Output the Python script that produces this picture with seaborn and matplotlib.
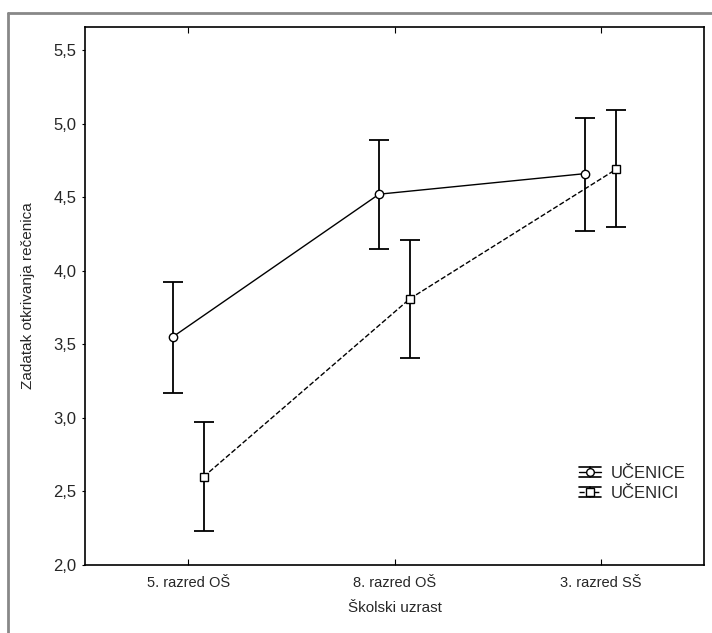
import numpy as np
import pandas as pd
import matplotlib
matplotlib.use("Agg")
import matplotlib.pyplot as plt
from matplotlib.ticker import FuncFormatter
from matplotlib.legend_handler import HandlerBase
from matplotlib.lines import Line2D
import seaborn as sns

# data
categories = ['5. razred OŠ', '8. razred OŠ', '3. razred SŠ']
groups = ['UČENICE', 'UČENICI']
mean_ucenice = [3.55, 4.52, 4.66]
lower_ucenice = [3.17, 4.15, 4.27]
upper_ucenice = [3.92, 4.89, 5.04]
mean_ucenici = [2.60, 3.81, 4.69]
lower_ucenici = [2.23, 3.41, 4.30]
upper_ucenici = [2.97, 4.21, 5.09]

df = pd.DataFrame({
    'uzrast': categories * 2,
    'spol': [groups[0]] * 3 + [groups[1]] * 3,
    'rezultat': mean_ucenice + mean_ucenici,
})


class ErrorbarKeyHandler(HandlerBase):
    # legend key: caps top and bottom, stem, line with marker in the middle
    def create_artists(self, legend, orig_handle, xdescent, ydescent,
                       width, height, fontsize, trans):
        x0 = -xdescent
        x1 = x0 + width
        xm = (x0 + x1) / 2
        ym = -ydescent + height / 2
        top = ym + height * 0.45
        bot = ym - height * 0.45
        arts = [
            Line2D([x0, x1], [top, top], color='black', lw=1.2),
            Line2D([x0, x1], [bot, bot], color='black', lw=1.2),
            Line2D([xm, xm], [bot, top], color='black', lw=1.2),
            Line2D([x0, x1], [ym, ym], color='black', lw=1.0,
                   linestyle=orig_handle.get_linestyle()),
            Line2D([xm], [ym], marker=orig_handle.get_marker(), markersize=5.5,
                   markerfacecolor='white', markeredgecolor='black',
                   linestyle='none'),
        ]
        for a in arts:
            a.set_transform(trans)
        return arts


sns.set_style('white')
plt.rcParams['font.family'] = ['Liberation Sans', 'DejaVu Sans']

fig = plt.figure(figsize=(7.12, 6.33), dpi=100)
ax = fig.add_axes([0.1194, 0.1074, 0.8694, 0.8499])

sns.pointplot(data=df, x='uzrast', y='rezultat', hue='spol', order=categories,
              hue_order=groups, dodge=0.15, errorbar=None,
              palette=['black', 'black'], markers=['o', 's'],
              linestyles=['-', '--'], ax=ax, legend=False,
              markersize=6, linewidth=1.0,
              markerfacecolor='white', markeredgecolor='black',
              markeredgewidth=1.0)

# error bars at the dodged positions seaborn used
handles = []
bounds = [(mean_ucenice, lower_ucenice, upper_ucenice),
          (mean_ucenici, lower_ucenici, upper_ucenici)]
styles = [('o', '-'), ('s', '--')]
for line, (m, lo, hi), (mk, ls) in zip(ax.lines[:2], bounds, styles):
    line.set_zorder(4)
    xs = line.get_xdata()
    m = np.array(m)
    yerr = [m - np.array(lo), np.array(hi) - m]
    ax.errorbar(xs, m, yerr=yerr, fmt='none', ecolor='black',
                elinewidth=1.3, capsize=7, capthick=1.3, zorder=2)
    handles.append(Line2D([], [], color='black', linestyle=ls, marker=mk))

ax.set_xlim(-0.5, 2.5)
ax.set_ylim(2.0, 5.656)
ax.set_yticks(np.arange(2.0, 5.51, 0.5))
ax.yaxis.set_major_formatter(FuncFormatter(lambda v, p: f'{v:.1f}'.replace('.', ',')))

ax.set_xlabel('Školski uzrast', fontsize=11, labelpad=8)
ax.set_ylabel('Zadatak otkrivanja rečenica', fontsize=11, labelpad=13)
ax.tick_params(axis='x', direction='in', length=4, top=True, bottom=True,
               labelsize=10.5, pad=8, color='black')
ax.tick_params(axis='y', direction='out', length=2, left=True,
               labelsize=12, pad=4, color='black')
for s in ax.spines.values():
    s.set_color('black')
    s.set_linewidth(1.2)

ax.legend(handles, groups, handler_map={Line2D: ErrorbarKeyHandler()},
          loc='upper left', bbox_to_anchor=(0.785, 0.2), frameon=False,
          fontsize=12, handlelength=1.3, handletextpad=0.6,
          labelspacing=0.3, borderpad=0)

# outer gray frame (left and top edges only are visible)
fig.add_artist(Line2D([8 / 712, 8 / 712], [0, 1 - 13 / 633],
                      transform=fig.transFigure, color='#888888', linewidth=2))
fig.add_artist(Line2D([8 / 712, 1], [1 - 13 / 633, 1 - 13 / 633],
                      transform=fig.transFigure, color='#888888', linewidth=2))

fig.savefig('out.png', dpi=100)
